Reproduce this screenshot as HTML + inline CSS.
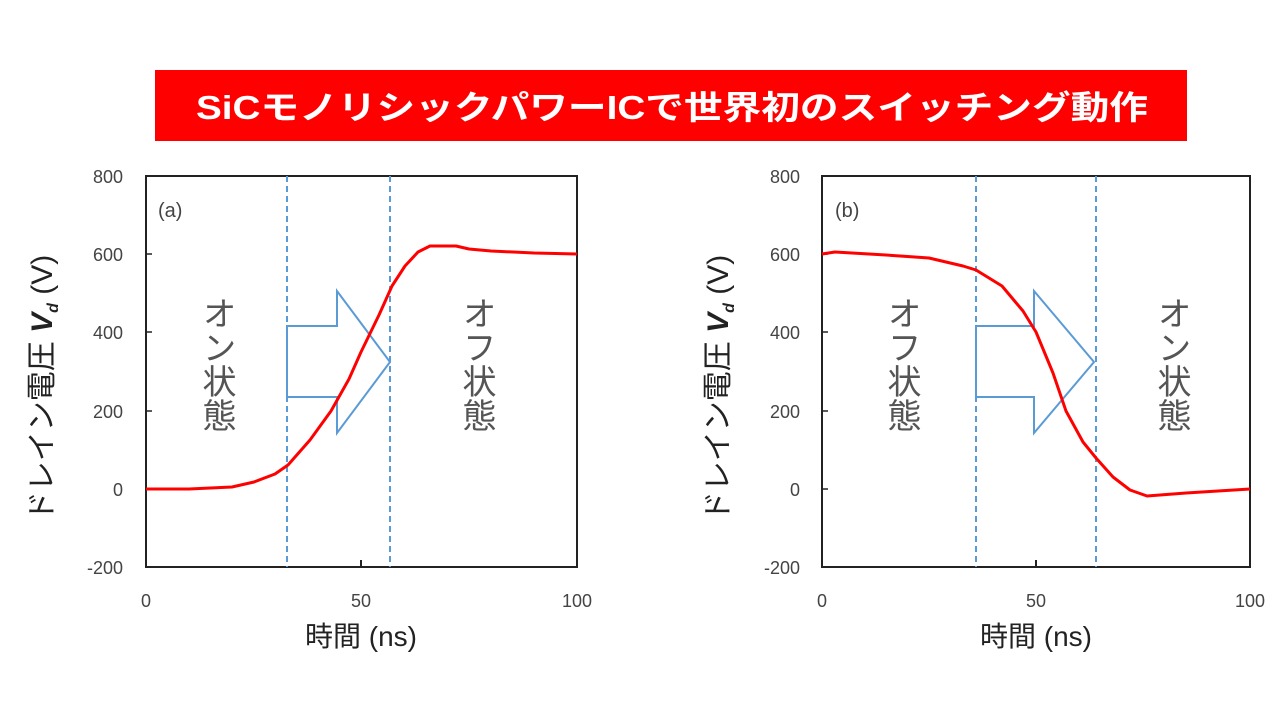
<!DOCTYPE html>
<html><head><meta charset="utf-8"><style>
body{margin:0;background:#fff;width:1280px;height:721px;overflow:hidden;}
text{font-family:"Liberation Sans","Noto Sans CJK JP",sans-serif;}
</style></head><body>
<svg width="1280" height="721" viewBox="0 0 1280 721" xmlns="http://www.w3.org/2000/svg">
<rect x="155" y="70" width="1032" height="71" fill="#f00"/>
<text x="196" y="119" textLength="952" lengthAdjust="spacingAndGlyphs" font-size="33" font-weight="bold" fill="#fff">SiCモノリシックパワーICで世界初のスイッチング動作</text>

<!-- Left chart -->
<g>
<rect x="146" y="176" width="431" height="391" fill="none" stroke="#222" stroke-width="2"/>
<line x1="361" y1="567" x2="361" y2="560" stroke="#222" stroke-width="2"/>
<g stroke="#222" stroke-width="1.5"><line x1="146" y1="254" x2="152" y2="254"/><line x1="146" y1="332" x2="152" y2="332"/><line x1="146" y1="411" x2="152" y2="411"/><line x1="146" y1="489" x2="152" y2="489"/></g>
<g font-size="18" fill="#444" text-anchor="end">
<text x="123" y="183">800</text><text x="123" y="261">600</text><text x="123" y="339">400</text><text x="123" y="418">200</text><text x="123" y="496">0</text><text x="123" y="574">-200</text></g>
<g font-size="18" fill="#444" text-anchor="middle"><text x="146" y="607">0</text><text x="361" y="607">50</text><text x="577" y="607">100</text></g>
<text x="361" y="646" text-anchor="middle" font-size="28" fill="#222">時間 (ns)</text>
<text transform="translate(52,388) rotate(-90)" text-anchor="middle" font-size="30" fill="#222">ドレイン電圧 <tspan font-weight="bold" font-style="italic">V</tspan><tspan font-size="16" font-weight="bold" font-style="italic" dy="6">d</tspan><tspan dy="-6"> (V)</tspan></text>
<text x="158" y="217" font-size="20" fill="#444">(a)</text>
<g stroke="#5b9bd5" stroke-width="2" stroke-dasharray="6,4"><line x1="287" y1="176" x2="287" y2="567"/><line x1="390" y1="176" x2="390" y2="567"/></g>
<polygon points="287,326 337,326 337,291 390,362 337,433 337,397 287,397" fill="none" stroke="#5b9bd5" stroke-width="2"/>
<text x="216" y="296" font-size="34" fill="#555" style="writing-mode:vertical-rl">オン状態</text>
<text x="476" y="296" font-size="34" fill="#555" style="writing-mode:vertical-rl">オフ状態</text>
<polyline fill="none" stroke="#f00" stroke-width="3" stroke-linejoin="round" points="146,489 189,489 232,487 254,482 275,474 288,465 310,440 331,411 349,379 361,352 379,315 392,286 405,266 418,252 430,246 456,246 469,249 491,251 534,253 577,254"/>
</g>

<!-- Right chart -->
<g>
<rect x="822" y="176" width="428" height="391" fill="none" stroke="#222" stroke-width="2"/>
<line x1="1036" y1="567" x2="1036" y2="560" stroke="#222" stroke-width="2"/>
<g stroke="#222" stroke-width="1.5"><line x1="822" y1="254" x2="828" y2="254"/><line x1="822" y1="332" x2="828" y2="332"/><line x1="822" y1="411" x2="828" y2="411"/><line x1="822" y1="489" x2="828" y2="489"/></g>
<g font-size="18" fill="#444" text-anchor="end">
<text x="800" y="183">800</text><text x="800" y="261">600</text><text x="800" y="339">400</text><text x="800" y="418">200</text><text x="800" y="496">0</text><text x="800" y="574">-200</text></g>
<g font-size="18" fill="#444" text-anchor="middle"><text x="822" y="607">0</text><text x="1036" y="607">50</text><text x="1250" y="607">100</text></g>
<text x="1036" y="646" text-anchor="middle" font-size="28" fill="#222">時間 (ns)</text>
<text transform="translate(728,388) rotate(-90)" text-anchor="middle" font-size="30" fill="#222">ドレイン電圧 <tspan font-weight="bold" font-style="italic">V</tspan><tspan font-size="16" font-weight="bold" font-style="italic" dy="6">d</tspan><tspan dy="-6"> (V)</tspan></text>
<text x="835" y="217" font-size="20" fill="#444">(b)</text>
<g stroke="#5b9bd5" stroke-width="2" stroke-dasharray="6,4"><line x1="976" y1="176" x2="976" y2="567"/><line x1="1096" y1="176" x2="1096" y2="567"/></g>
<polygon points="976,326 1034,326 1034,291 1094,362 1034,433 1034,397 976,397" fill="none" stroke="#5b9bd5" stroke-width="2"/>
<text x="901" y="296" font-size="34" fill="#555" style="writing-mode:vertical-rl">オフ状態</text>
<text x="1171" y="296" font-size="34" fill="#555" style="writing-mode:vertical-rl">オン状態</text>
<polyline fill="none" stroke="#f00" stroke-width="3" stroke-linejoin="round" points="822,254 835,252 886,255 929,258 963,266 976,270 1002,286 1023,311 1036,332 1053,373 1066,411 1083,442 1096,458 1113,477 1130,490 1147,496 1186,493 1250,489"/>
</g>
</svg>
</body></html>
